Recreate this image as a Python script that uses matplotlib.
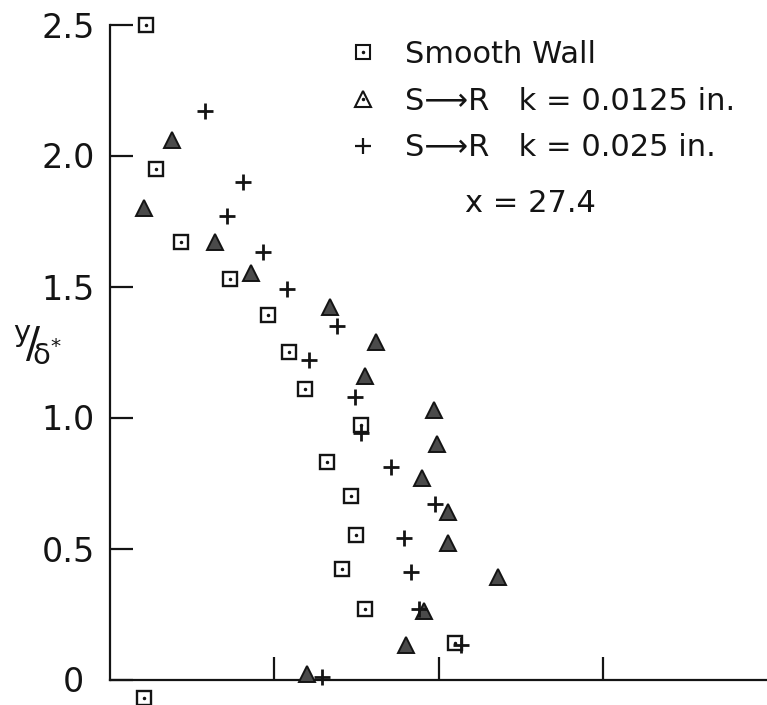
import numpy as np
import matplotlib.pyplot as plt
from matplotlib.lines import Line2D

# Smooth wall (squares)
smooth_x = [0.22, 0.28, 0.43, 0.73, 0.96, 1.09, 1.19, 1.53, 1.32, 1.47, 1.50, 1.41, 1.55, 2.10, 0.21]
smooth_y = [2.50, 1.95, 1.67, 1.53, 1.39, 1.25, 1.11, 0.97, 0.83, 0.70, 0.55, 0.42, 0.27, 0.14, -0.07]

# S->R k = 0.0125 in. (triangles)
k1_x = [0.38, 0.21, 0.64, 0.86, 1.34, 1.62, 1.55, 1.97, 1.99, 1.90, 2.06, 2.06, 2.36, 1.91, 1.80, 1.20]
k1_y = [2.06, 1.80, 1.67, 1.55, 1.42, 1.29, 1.16, 1.03, 0.90, 0.77, 0.64, 0.52, 0.39, 0.26, 0.13, 0.02]

# S->R k = 0.025 in. (pluses)
k2_x = [0.58, 0.81, 0.71, 0.93, 1.08, 1.38, 1.21, 1.49, 1.53, 1.71, 1.98, 1.79, 1.83, 1.88, 2.14, 1.29]
k2_y = [2.17, 1.90, 1.77, 1.63, 1.49, 1.35, 1.22, 1.08, 0.94, 0.81, 0.67, 0.54, 0.41, 0.27, 0.13, 0.01]

ytick_vals = [0, 0.5, 1.0, 1.5, 2.0, 2.5]
ytick_labels = ['0 ', '0.5', '1.0', '1.5', '2.0', '2.5']
xtick_vals = [1, 2, 3]

ink = '#141414'

fig = plt.figure(figsize=(7.67, 7.05), dpi=100)
ax = fig.add_axes([110 / 767, 25.5 / 705, 657 / 767, 655 / 705])

# data
ax.plot(smooth_x, smooth_y, ls='none', marker='s', ms=10.5, mfc='white',
        mec=ink, mew=1.7, clip_on=False, zorder=3)
ax.plot(smooth_x, smooth_y, ls='none', marker='.', ms=3, color=ink,
        clip_on=False, zorder=4)
ax.plot(k1_x, k1_y, ls='none', marker='^', ms=11, mfc='#4a4a4a',
        mec=ink, mew=1.4, clip_on=False, zorder=3)
ax.plot(k2_x, k2_y, ls='none', marker='+', ms=12, mew=2.0, color=ink,
        clip_on=False, zorder=3)

ax.set_xlim(0, 4)
ax.set_ylim(0, 2.5)

for s in ['top', 'right']:
    ax.spines[s].set_visible(False)
for s in ['left', 'bottom']:
    ax.spines[s].set_linewidth(1.6)
    ax.spines[s].set_color(ink)

ax.set_yticks(ytick_vals)
ax.set_yticklabels(ytick_labels)
ax.set_xticks(xtick_vals)
ax.set_xticklabels([])
ax.tick_params(axis='both', direction='in', length=16.5, width=1.6, color=ink)
ax.tick_params(axis='y', pad=11, labelsize=24, labelcolor=ink)

# legend
h_sq = Line2D([], [], ls='none', marker='s', ms=10, mfc='white', mec=ink, mew=1.5)
h_dot = Line2D([], [], ls='none', marker='.', ms=3, color=ink)
h_tri = Line2D([], [], ls='none', marker='^', ms=11, mfc='white', mec=ink, mew=1.5)
h_plus = Line2D([], [], ls='none', marker='+', ms=12, mew=1.6, color=ink)
ax.legend([(h_sq, h_dot), (h_tri, h_dot), h_plus],
          ['Smooth Wall', 'S\u27f6R   k = 0.0125 in.', 'S\u27f6R   k = 0.025 in.'],
          loc='upper left', bbox_to_anchor=(348 / 767, 1 - 40 / 705),
          bbox_transform=fig.transFigure, frameon=False, fontsize=22,
          handlelength=1.0, handletextpad=0.86, labelspacing=0.58,
          borderpad=0, borderaxespad=0, labelcolor=ink)

fig.text(465 / 767, 1 - 203 / 705, 'x = 27.4', fontsize=22, color=ink,
         ha='left', va='center')
fig.text(38 / 767, 1 - 345 / 705, r'$^{\mathrm{y}}\!/\!_{\mathrm{\delta}^{*}}$',
         fontsize=30, color=ink, ha='center', va='center')

fig.savefig('out.png', dpi=100)
